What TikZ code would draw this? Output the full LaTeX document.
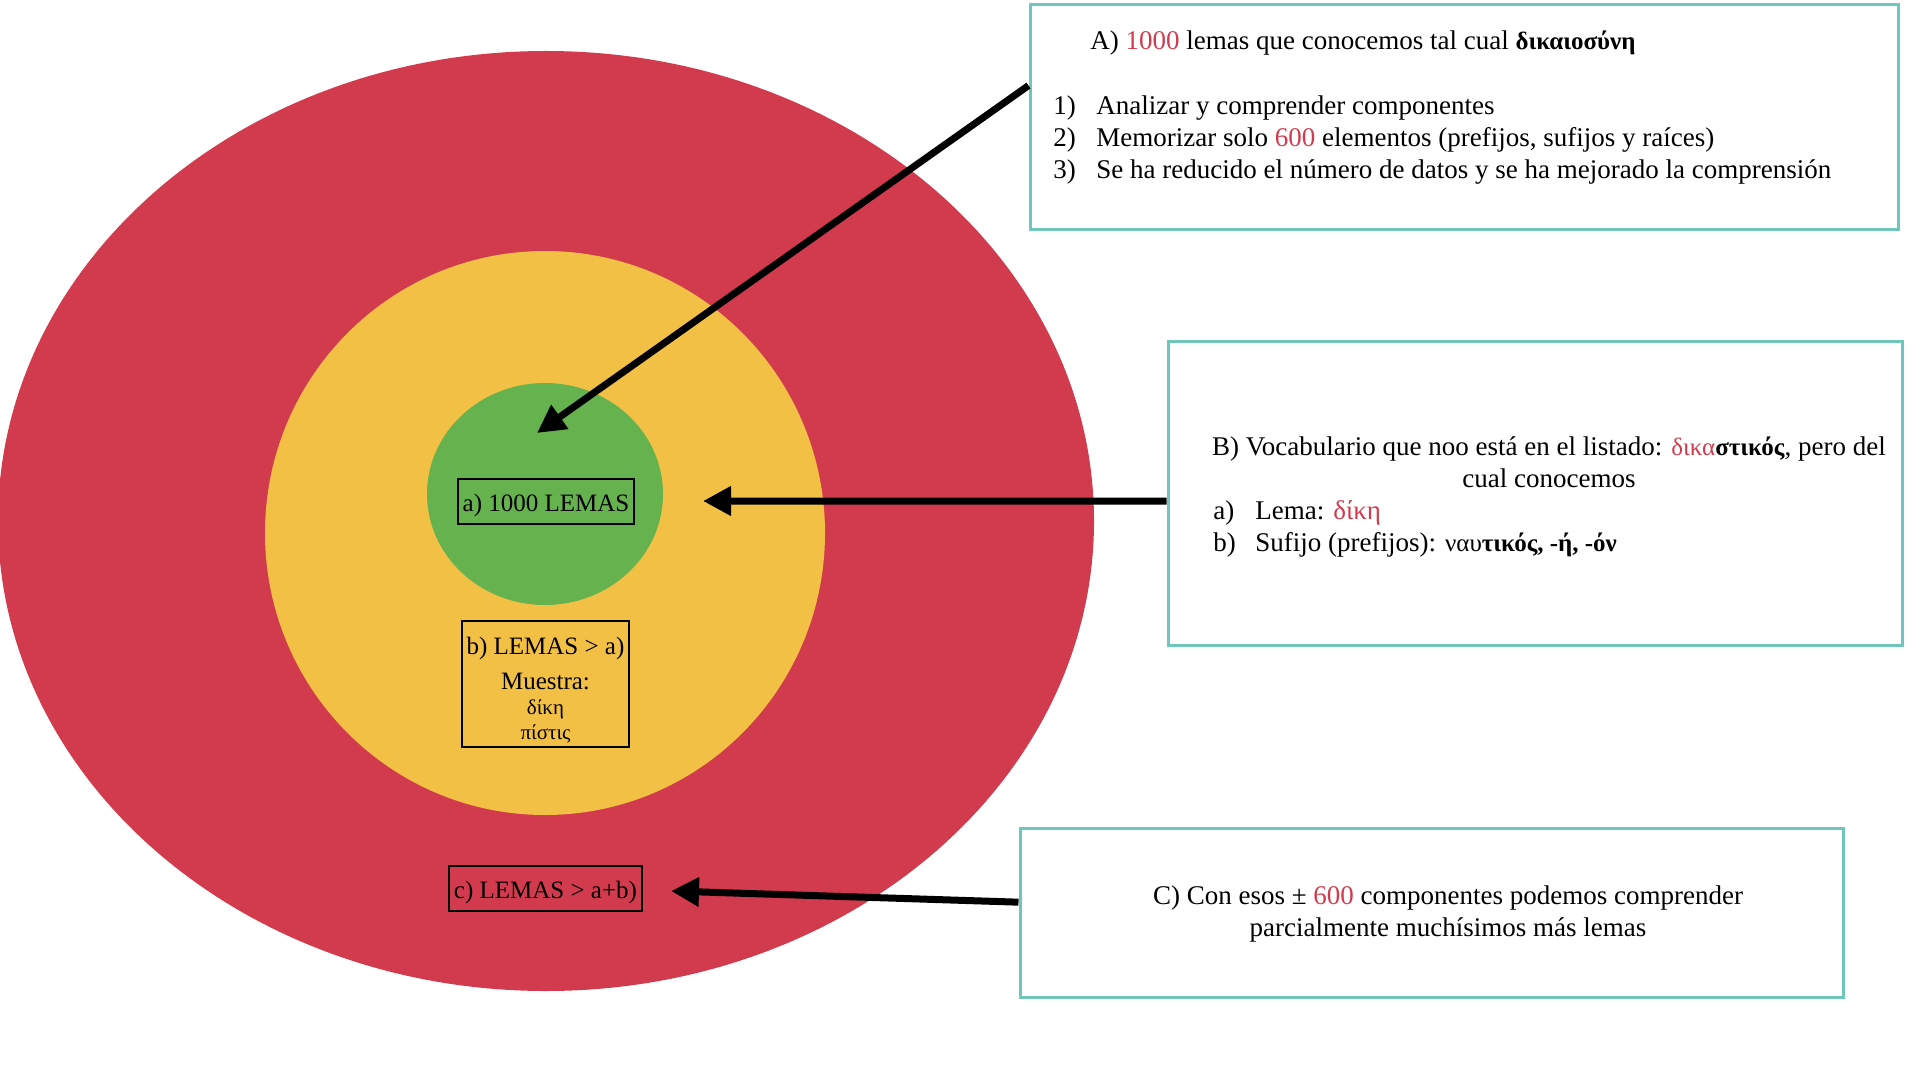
\documentclass[tikz,border=0pt]{standalone}
\usepackage{fontspec}
\setmainfont{Liberation Serif}
\usetikzlibrary{arrows.meta,fit,calc}

\definecolor{lemared}{RGB}{209,59,77}
\definecolor{lemayellow}{RGB}{243,192,70}
\definecolor{lemagreen}{RGB}{102,178,78}
\definecolor{boxteal}{RGB}{110,198,188}

\tikzset{
    notebox/.style={draw=boxteal,line width=1.5pt,inner sep=0pt},
    lemabox/.style={draw=black,line width=1pt,inner sep=2pt,align=center,font=\fontsize{12.5}{14}\selectfont},
    notetext/.style={font=\fontsize{13.5}{16}\selectfont,inner sep=0pt},
    pointer/.style={line width=3.5pt,-{Triangle[length=14pt,width=14pt]}}
}
\newcommand{\rojo}[1]{\textcolor{lemared}{#1}}
\newcommand{\grk}[1]{{\fontsize{12.5}{16}\selectfont #1}}

\begin{document}
\begin{tikzpicture}[x=0.5pt,y=-0.5pt]
    \useasboundingbox(0,0)rectangle(1920,1080);
    %% rings
    \fill[lemared](546,521)ellipse[x radius=548,y radius=470];
    \fill[lemayellow](545,533)ellipse[x radius=280,y radius=282];
    \fill[lemagreen](545,494)ellipse[x radius=118,y radius=111];

    \node[lemabox,minimum width=88pt,minimum height=22.5pt,text height=12.7pt,text depth=2.7pt](lemasa)at(546,501.5){a) 1000 LEMAS};
    \node[lemabox,minimum width=83.5pt,minimum height=62pt,font=\fontsize{12.5}{12.5}\selectfont](lemasb)at(545.5,684)
        {\rule{0pt}{15pt}b) LEMAS > a)\\[5pt] Muestra:\\ {\fontsize{10.5}{12}\selectfont δίκη}\\ {\fontsize{10.5}{12}\selectfont πίστις}};
    \node[lemabox,minimum width=96.5pt,minimum height=22.5pt,text height=12.7pt,text depth=2.7pt](lemasc)at(545.5,888.5){c) LEMAS > a+b)};

    %% notes
    \node[notebox,fit={(1030,5)(1898,230)}](boxA){};
    \node[notebox,fit={(1168,342)(1902,645)}](boxB){};
    \node[notebox,fit={(1020,828)(1843,997)}](boxC){};

    \node[notetext,anchor=west](titleA)at(1090,43){A) \rojo{1000} lemas que conocemos tal cual \grk{\textbf{δικαιοσύνη}}};
    \node[notetext,anchor=west](listA)at(1053,140){\begin{tabular}{@{}p{21.5pt}@{}l@{}}
        1) & Analizar y comprender componentes\\
        2) & Memorizar solo \rojo{600} elementos (prefijos, sufijos y raíces)\\
        3) & Se ha reducido el número de datos y se ha mejorado la comprensión
    \end{tabular}};

    \node[notetext,align=center](titleB)at(1549,462){B) Vocabulario que noo está en el listado: \grk{\rojo{δικα}\textbf{στικός}}, pero del\\ cual conocemos};
    \node[notetext,anchor=west](listB)at(1213,529){\begin{tabular}{@{}p{21pt}@{}l@{}}
        a) & Lema: \rojo{δίκη}\\
        b) & Sufijo (prefijos): \grk{ναυ\textbf{τικός, -ή, -όν}}
    \end{tabular}};

    \node[notetext,align=center](textC)at(1448,914){C) Con esos ± \rojo{600} componentes podemos comprender\\ parcialmente muchísimos más lemas};

    %% arrows
    \coordinate(tipA)at(537,433);
    \coordinate(tipB)at(703,501);
    \coordinate(tipC)at(671,891);
    \draw[pointer]($(boxA.north west)!0.36!(boxA.south west)$)--(tipA);
    \draw[pointer]($(boxB.north west)!0.525!(boxB.south west)$)--(tipB);
    \draw[pointer]($(boxC.north west)!0.44!(boxC.south west)$)--(tipC);
\end{tikzpicture}
\end{document}
